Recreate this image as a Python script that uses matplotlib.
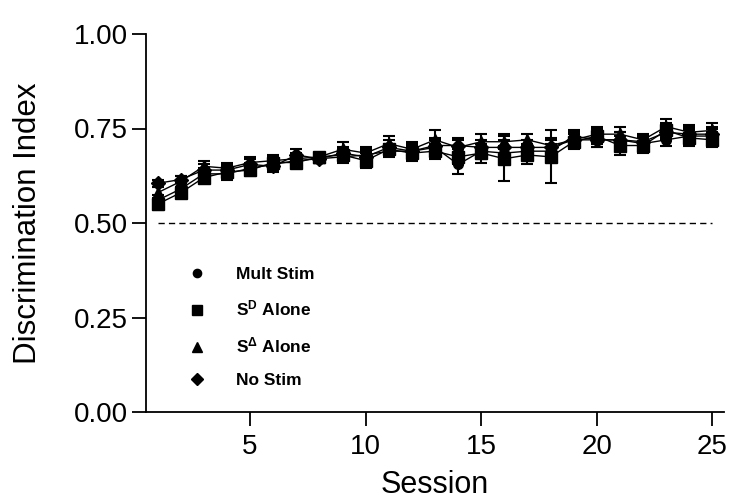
import matplotlib
matplotlib.use("Agg")
import matplotlib.pyplot as plt
from matplotlib.lines import Line2D
import numpy as np

plt.rcParams['font.family'] = ['Liberation Sans', 'DejaVu Sans']
plt.rcParams['mathtext.fontset'] = 'custom'
plt.rcParams['mathtext.rm'] = 'Liberation Sans:bold'
plt.rcParams['mathtext.it'] = 'Liberation Sans:bold'
plt.rcParams['mathtext.bf'] = 'Liberation Sans:bold'

sessions = list(range(1, 26))

mult_stim = [0.56, 0.59, 0.63, 0.63, 0.645, 0.655, 0.665, 0.67, 0.675, 0.68,
             0.69, 0.69, 0.70, 0.655, 0.69, 0.685, 0.69, 0.69, 0.73, 0.72,
             0.72, 0.71, 0.72, 0.73, 0.73]
mult_err = [0.015, 0.015, 0.015, 0.015, 0.015, 0.015, 0.015, 0.01, 0.015, 0.015,
            0.015, 0.02, 0.02, 0.025, 0.02, 0.02, 0.02, 0.02, 0.015, 0.02,
            0.02, 0.015, 0.015, 0.02, 0.02]

sd_alone = [0.55, 0.58, 0.62, 0.635, 0.64, 0.66, 0.66, 0.675, 0.68, 0.665,
            0.695, 0.685, 0.69, 0.675, 0.685, 0.67, 0.68, 0.675, 0.715, 0.73,
            0.705, 0.705, 0.745, 0.725, 0.72]
sd_err = [0.015, 0.015, 0.015, 0.015, 0.015, 0.015, 0.015, 0.01, 0.015, 0.02,
          0.015, 0.02, 0.02, 0.02, 0.025, 0.06, 0.025, 0.07, 0.02, 0.02,
          0.025, 0.02, 0.02, 0.02, 0.02]

sdelta_alone = [0.58, 0.61, 0.65, 0.645, 0.66, 0.665, 0.67, 0.675, 0.695, 0.685,
                0.71, 0.695, 0.72, 0.70, 0.715, 0.715, 0.72, 0.705, 0.72, 0.735,
                0.735, 0.72, 0.755, 0.74, 0.745]
sdelta_err = [0.015, 0.015, 0.015, 0.015, 0.015, 0.015, 0.015, 0.01, 0.02, 0.015,
              0.02, 0.02, 0.025, 0.02, 0.02, 0.02, 0.015, 0.02, 0.02, 0.02,
              0.02, 0.015, 0.02, 0.02, 0.02]

no_stim = [0.605, 0.615, 0.64, 0.64, 0.655, 0.65, 0.68, 0.67, 0.685, 0.675,
           0.70, 0.69, 0.705, 0.705, 0.70, 0.70, 0.70, 0.70, 0.72, 0.72,
           0.72, 0.715, 0.74, 0.735, 0.735]
no_stim_err = [0.01, 0.01, 0.015, 0.015, 0.015, 0.015, 0.015, 0.01, 0.015, 0.015,
               0.02, 0.02, 0.02, 0.02, 0.02, 0.02, 0.02, 0.02, 0.02, 0.02,
               0.02, 0.015, 0.02, 0.02, 0.02]

chance = 0.5
labels = ['Mult Stim', r'S$^{\mathrm{D}}$ Alone', r'S$^{\mathrm{Δ}}$ Alone', 'No Stim']
markers = ['o', 's', '^', 'D']
msizes = [7, 8, 9, 7]

fig = plt.figure(figsize=(7.31, 5.03), dpi=100)
ax = fig.add_axes([146/731, 1 - 412/503, (724-146)/731, (412-34)/503])

series = [(mult_stim, mult_err), (sd_alone, sd_err), (sdelta_alone, sdelta_err), (no_stim, no_stim_err)]
for (vals, errs), m, ms in zip(series, markers, msizes):
    ax.errorbar(sessions, vals, yerr=errs, color='black', marker=m, markersize=ms,
                linewidth=1.0, elinewidth=1.5, capsize=4.5, capthick=1.5)

ax.plot([sessions[0], sessions[-1]], [chance, chance], color='black',
        linestyle=(0, (4.5, 3)), linewidth=1.0)

ax.set_xlim(0.5, 25.5)
ax.set_ylim(0, 1.0)
ax.set_xticks([5, 10, 15, 20, 25])
ax.set_yticks([0, 0.25, 0.5, 0.75, 1.0])
ax.set_yticklabels(['0.00', '0.25', '0.50', '0.75', '1.00'])
for s in ['top', 'right']:
    ax.spines[s].set_visible(False)
for s in ['left', 'bottom']:
    ax.spines[s].set_linewidth(1.3)
ax.tick_params(axis='both', length=10, width=1.3, labelsize=20)
ax.tick_params(axis='y', pad=3)
ax.tick_params(axis='x', pad=6)
ax.set_xlabel('Session', fontsize=22, labelpad=7)
ax.set_ylabel('Discrimination Index', fontsize=22.5, labelpad=22)

handles = [Line2D([], [], color='black', marker=m, linestyle='none', markersize=ms*0.85)
           for m, ms in zip(markers, msizes)]
leg = ax.legend(handles, labels, loc='upper left', bbox_to_anchor=(175/731, 1 - 258/503),
                bbox_transform=fig.transFigure, frameon=False,
                prop={'weight': 'bold', 'size': 12.5}, labelspacing=0.98,
                handletextpad=1.5, handlelength=1.5, borderpad=0)

fig.savefig('out.png', dpi=100)
